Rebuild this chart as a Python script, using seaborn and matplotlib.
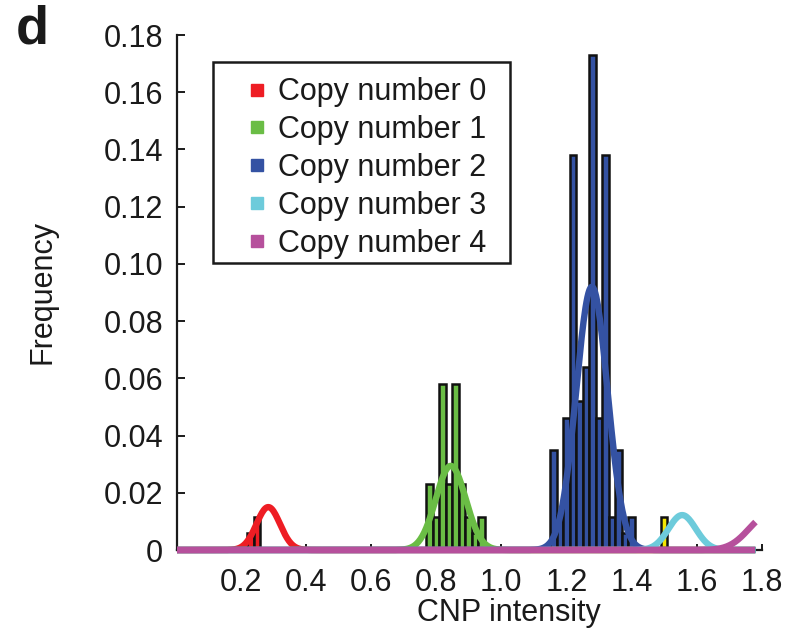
import numpy as np
import pandas as pd
import matplotlib
matplotlib.use("Agg")
import matplotlib.pyplot as plt
from matplotlib.lines import Line2D
from matplotlib.patches import Rectangle
import seaborn as sns

# ---- data ----
bin_width = 0.02
cn0_x = [0.23, 0.25]
cn0_f = [0.0058, 0.0115]
cn1_x = [0.78, 0.80, 0.82, 0.84, 0.86, 0.88, 0.90, 0.92, 0.94]
cn1_f = [0.023, 0.0115, 0.058, 0.023, 0.058, 0.023, 0.0115, 0.0058, 0.0115]
cn2_x = [1.16, 1.18, 1.20, 1.22, 1.24, 1.26, 1.28, 1.30, 1.32, 1.34, 1.36, 1.38, 1.40]
cn2_f = [0.035, 0.012, 0.046, 0.138, 0.052, 0.064, 0.173, 0.046, 0.138, 0.0115, 0.035, 0.0058, 0.0115]
cn3_x = [1.50]
cn3_f = [0.0115]

labels = ["Copy number 0", "Copy number 1", "Copy number 2", "Copy number 3", "Copy number 4"]
colors = ["#ee1d24", "#6abd45", "#3452a3", "#6dcbdb", "#b6509c"]
bar_colors = ["#ee1d24", "#6abd45", "#3452a3", "#f5e600"]

# fitted Gaussian components: mean, sd, peak height
fit_mu = [0.285, 0.845, 1.278, 1.555, 1.82]
fit_sd = [0.036, 0.046, 0.048, 0.042, 0.06]
fit_peak = [0.0150, 0.0294, 0.0920, 0.0122, 0.0122]
curve_range = (0.005, 1.78)

x_ticks = [0.2, 0.4, 0.6, 0.8, 1.0, 1.2, 1.4, 1.6, 1.8]
x_ticklabels = ["0.2", "0.4", "0.6", "0.8", "1.0", "1.2", "1.4", "1.6", "1.8"]
y_ticks = [0, 0.02, 0.04, 0.06, 0.08, 0.10, 0.12, 0.14, 0.16, 0.18]
y_ticklabels = ["0", "0.02", "0.04", "0.06", "0.08", "0.10", "0.12", "0.14", "0.16", "0.18"]

# ---- style ----
sns.set_theme(style="ticks")
plt.rcParams["font.family"] = ["Liberation Sans", "DejaVu Sans"]
plt.rcParams["text.color"] = "#1a1a1a"
plt.rcParams["axes.labelcolor"] = "#1a1a1a"
plt.rcParams["xtick.color"] = "#1a1a1a"
plt.rcParams["ytick.color"] = "#1a1a1a"

FS = 22
XMIN, XMAX = 0.005, 1.8

fig = plt.figure(figsize=(8.01, 6.41), dpi=100)
ax = fig.add_axes([177 / 801, 1 - 550 / 641, (762 - 177) / 801, (550 - 35) / 641])

groups = [(cn0_x, cn0_f), (cn1_x, cn1_f), (cn2_x, cn2_f), (cn3_x, cn3_f)]
for (gx, gf), c in zip(groups, bar_colors):
    df = pd.DataFrame({"x": gx, "f": gf})
    lo = min(gx) - bin_width / 2
    hi = max(gx) + bin_width / 2
    sns.histplot(data=df, x="x", weights="f", binwidth=bin_width, binrange=(lo, hi),
                 stat="count", color=c, edgecolor="#111111", linewidth=1.8,
                 alpha=1.0, ax=ax, zorder=2)

xgrid = np.linspace(curve_range[0], curve_range[1], 600)
for mu, sd, pk, c in zip(fit_mu, fit_sd, fit_peak, colors):
    yv = pk * np.exp(-0.5 * ((xgrid - mu) / sd) ** 2)
    sns.lineplot(x=xgrid, y=yv, color=c, linewidth=4.6, ax=ax, zorder=3,
                 clip_on=False, solid_capstyle="butt")
# magenta zero baseline under the last component
ax.axhline(0, xmin=0, xmax=(curve_range[1] - XMIN) / (XMAX - XMIN), color=colors[4],
           linewidth=4.6, zorder=3, clip_on=False, solid_capstyle="butt")

ax.set_xlim(XMIN, XMAX)
ax.set_ylim(0, 0.18)
ax.set_xticks(x_ticks)
ax.set_xticklabels(x_ticklabels)
ax.set_yticks(y_ticks)
ax.set_yticklabels(y_ticklabels)
ax.tick_params(axis="both", direction="in", labelsize=FS, width=1.4)
ax.tick_params(axis="y", length=6, pad=10)
ax.tick_params(axis="x", length=4, pad=13)
sns.despine(ax=ax)
for s in ["left", "bottom"]:
    ax.spines[s].set_linewidth(1.6)
    ax.spines[s].set_color("#1a1a1a")

ax.set_xlabel("CNP intensity", fontsize=FS, va="top")
ax.xaxis.set_label_coords(0.567, -0.093)
ax.set_ylabel("Frequency", fontsize=FS)
ax.yaxis.set_label_coords(-0.205, 0.5)

# legend box (frame drawn separately to match the reference padding)
ax.add_patch(Rectangle((36 / 585, (550 - 263) / 515), 297 / 585, 201 / 515,
                       transform=ax.transAxes, facecolor="white", edgecolor="#1a1a1a",
                       linewidth=1.8, zorder=4, clip_on=False))
handles = [Line2D([], [], marker="s", linestyle="", markersize=8,
                  markerfacecolor=c, markeredgecolor=c) for c in colors]
leg = ax.legend(handles, labels, loc="upper left",
                borderaxespad=0, fontsize=FS, frameon=False,
                borderpad=0, handlelength=1.0, handletextpad=0.2,
                labelspacing=0.26)
leg.set_bbox_to_anchor(((257 - 0.5 * 1.0 * FS * 100 / 72 - 177) / 585, 0.918),
                       transform=ax.transAxes)
leg.set_zorder(5)

fig.text(16 / 801, 1 - 4 / 641, "d", fontsize=39, fontweight="bold", va="top", ha="left")

fig.savefig("out.png", dpi=100)
